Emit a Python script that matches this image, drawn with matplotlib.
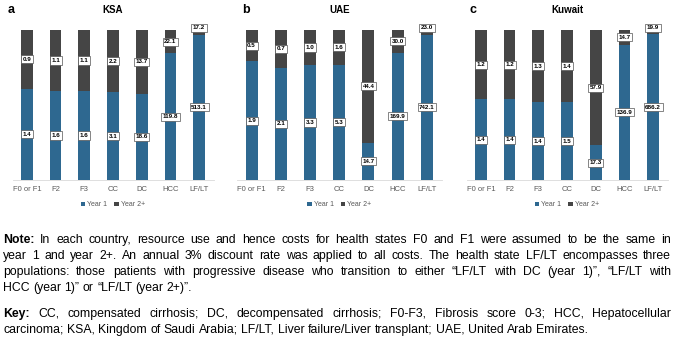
import matplotlib.pyplot as plt
import numpy as np

#===== DATA =====
categories = ["F0 or F1", "F2", "F3", "CC", "DC", "HCC", "LF/LT"]
panel_letters = ["a", "b", "c"]
countries = ["KSA", "UAE", "Kuwait"]
# costs per health state: year 1 and year 2+
ksa_year1 = [1.4, 1.6, 1.6, 3.1, 18.6, 119.8, 513.1]
ksa_year2 = [0.9, 1.1, 1.1, 2.2, 13.7, 22.1, 17.2]
uae_year1 = [1.9, 2.1, 3.3, 5.3, 14.7, 169.9, 742.1]
uae_year2 = [0.5, 0.7, 1.0, 1.6, 44.4, 30.0, 23.0]
kuw_year1 = [1.4, 1.4, 1.4, 1.5, 17.3, 136.9, 686.2]
kuw_year2 = [1.2, 1.2, 1.3, 1.4, 57.9, 14.7, 19.9]
legend_labels = ["Year 1", "Year 2+"]

note_lines = [
    ("Note:", "In each country, resource use and hence costs for health states F0 and F1 were assumed to be the same in"),
    ("", "year 1 and year 2+. An annual 3% discount rate was applied to all costs. The health state LF/LT encompasses three"),
    ("", "populations: those patients with progressive disease who transition to either \u201cLF/LT with DC (year 1)\u201d, \u201cLF/LT with"),
    ("", "HCC (year 1)\u201d or \u201cLF/LT (year 2+)\u201d."),
]
key_lines = [
    ("Key:", "CC, compensated cirrhosis; DC, decompensated cirrhosis; F0-F3, Fibrosis score 0-3; HCC, Hepatocellular"),
    ("", "carcinoma; KSA, Kingdom of Saudi Arabia; LF/LT, Liver failure/Liver transplant; UAE, United Arab Emirates."),
]

#===== STYLE =====
BLUE = "#2e6890"
GREY = "#454545"
W, H = 676, 353
plt.rcParams['font.family'] = ['Liberation Sans', 'DejaVu Sans']

fig = plt.figure(figsize=(W / 100, H / 100), dpi=100)

# axes boxes in pixels: left, width (top=30, bottom=180)
boxes = [(12.5, 201), (237, 204.5), (466.5, 201)]
data = [(ksa_year1, ksa_year2), (uae_year1, uae_year2), (kuw_year1, kuw_year2)]
letter_x = [8, 242, 469]

for i, (left, width) in enumerate(boxes):
    ax = fig.add_axes([left / W, 1 - 180 / H, width / W, 150 / H])
    y1 = np.array(data[i][0])
    y2 = np.array(data[i][1])
    tot = y1 + y2
    f1 = y1 / tot
    f2 = y2 / tot
    x = np.arange(len(categories))
    ax.bar(x, f1, width=0.41, color=BLUE, label=legend_labels[0])
    ax.bar(x, f2, bottom=f1, width=0.41, color=GREY, label=legend_labels[1])
    box = dict(boxstyle="square,pad=0.25", fc="white", ec="#555555", lw=0.5)
    for xi in x:
        ax.text(xi, f1[xi] / 2, f"{y1[xi]:.1f}", ha="center", va="center",
                fontsize=4.5, fontweight="bold", bbox=box)
        ax.text(xi, f1[xi] + f2[xi] / 2 if f2[xi] > 0.06 else 1.015, f"{y2[xi]:.1f}",
                ha="center", va="center", fontsize=4.5, fontweight="bold", bbox=box)
    ax.set_xlim(-0.5, len(categories) - 0.5)
    ax.set_ylim(0, 1)
    ax.set_xticks(x)
    ax.set_xticklabels(categories, fontsize=5.5, color="#595959")
    ax.tick_params(axis="x", length=0, pad=4)
    ax.set_yticks([])
    for s in ["top", "right", "left"]:
        ax.spines[s].set_visible(False)
    ax.spines["bottom"].set_color("#d9d9d9")
    ax.spines["bottom"].set_linewidth(0.6)
    ax.set_title(countries[i], fontsize=7, fontweight="bold", pad=12)
    ax.legend(loc="upper center", bbox_to_anchor=(0.5, -0.1), ncol=2, frameon=False,
              fontsize=5, labelcolor="#595959", handlelength=0.6, handleheight=0.6,
              handletextpad=0.3, columnspacing=1.0)
    fig.text(letter_x[i] / W, 1 - 10 / H, panel_letters[i], fontsize=9,
             fontweight="bold", ha="left", va="center")

#===== JUSTIFIED NOTE TEXT =====
renderer = fig.canvas.get_renderer()
FS = 8.8
x_left, x_right = 3, 671

def word_width(txt, bold):
    t = fig.text(0, 0, txt, fontsize=FS, fontweight="bold" if bold else "normal")
    w = t.get_window_extent(renderer).width
    t.remove()
    return w

def draw_line(head, body, ypix, last):
    words = []
    if head:
        words.append((head, True))
    words += [(w, False) for w in body.split(" ")]
    widths = [word_width(w, b) for w, b in words]
    space = word_width("a b", False) - word_width("ab", False)
    if last:
        gap = space
    else:
        gap = (x_right - x_left - sum(widths)) / (len(words) - 1)
    xp = x_left
    for (w, b), wd in zip(words, widths):
        fig.text(xp / W, 1 - ypix / H, w, fontsize=FS, fontweight="bold" if b else "normal",
                 ha="left", va="center")
        xp += wd + gap

ys = [240, 256, 272, 288]
for (h, b), y, k in zip(note_lines, ys, range(4)):
    draw_line(h, b, y, k == 3)
ys = [314, 330]
for (h, b), y, k in zip(key_lines, ys, range(2)):
    draw_line(h, b, y, k == 1)

fig.savefig("out.png", dpi=100)
